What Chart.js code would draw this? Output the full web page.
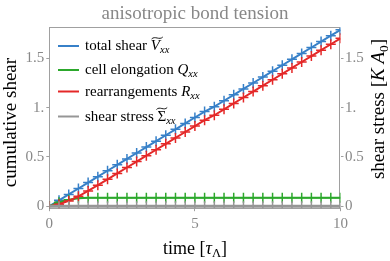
<!DOCTYPE html>
<html><head><meta charset="utf-8">
<script src="https://cdn.jsdelivr.net/npm/chart.js@4/dist/chart.umd.min.js"></script>
<style>html,body{margin:0;padding:0;background:#fff}</style>
</head><body>
<canvas id="c" width="390" height="261"></canvas>
<script>
// ---- data ----
const time = [0,0.333,0.667,1,1.333,1.667,2,2.333,2.667,3,3.333,3.667,4,4.333,4.667,5,5.333,5.667,6,6.333,6.667,7,7.333,7.667,8,8.333,8.667,9,9.333,9.667,10];
const totalShear = [0,0.06,0.12,0.18,0.24,0.30,0.36,0.42,0.48,0.54,0.60,0.66,0.72,0.78,0.84,0.90,0.96,1.01,1.07,1.13,1.19,1.25,1.31,1.37,1.43,1.49,1.55,1.61,1.67,1.73,1.79];
const cellElongation = [0,0.04,0.066,0.08,0.085,0.087,0.087,0.087,0.087,0.087,0.087,0.087,0.087,0.087,0.087,0.087,0.087,0.087,0.087,0.087,0.087,0.087,0.087,0.087,0.087,0.087,0.087,0.087,0.087,0.087,0.087];
const rearrangements = [0,0.02,0.054,0.10,0.155,0.213,0.273,0.333,0.393,0.453,0.513,0.573,0.633,0.693,0.753,0.813,0.873,0.923,0.983,1.043,1.103,1.163,1.223,1.283,1.343,1.403,1.463,1.523,1.583,1.643,1.703];
const shearStress = [0,0,0,0,0,0,0,0,0,0,0,0,0,0,0,0,0,0,0,0,0,0,0,0,0,0,0,0,0,0,0];
const seriesNames = ['total shear Ṽxx','cell elongation Qxx','rearrangements Rxx','shear stress Σ̃xx'];
const xTicks = [0,5,10];
const xTickLabels = ['0','5','10'];
const yTicks = [0,0.5,1,1.5];
const yTickLabels = ['0','0.5','1.','1.5'];
const titleText = 'anisotropic bond tension';

// rich-text pieces (italic / subscript / tilde) for legend and axis titles
const legendRich = [
  [{t:'total shear '},{t:'V',it:1,tilde:1},{t:'xx',it:1,sub:1}],
  [{t:'cell elongation '},{t:'Q',it:1},{t:'xx',it:1,sub:1}],
  [{t:'rearrangements '},{t:'R',it:1},{t:'xx',it:1,sub:1}],
  [{t:'shear stress '},{t:'Σ',tilde:1},{t:'xx',it:1,sub:1}]
];
const xTitleRich = [{t:'time ['},{t:'τ',it:1},{t:'Λ',sub:1},{t:']'}];
const yTitleRich = [{t:'cumulative shear'}];
const y2TitleRich = [{t:'shear stress ['},{t:'K A',it:1},{t:'0',sub:1},{t:']'}];

// ---- styling ----
const FONT = '"Liberation Serif", "DejaVu Serif", serif';
const colors = ['rgb(55,128,200)','rgb(44,168,44)','rgb(228,40,40)','rgb(150,150,150)'];
const GRAY = '#888888';

function pts(arr){ return time.map((t,i)=>({x:t,y:arr[i]})); }

function segFont(s,size){ return (s.it?'italic ':'') + (s.sub? (size*0.7).toFixed(1) : size) + 'px ' + FONT; }
function richWidth(ctx,segs,size){
  let w=0; for(const s of segs){ ctx.font=segFont(s,size); w+=ctx.measureText(s.t).width; } return w;
}
function drawRich(ctx,segs,x,y,size,color){
  ctx.save();
  ctx.fillStyle=color; ctx.strokeStyle=color; ctx.textBaseline='alphabetic'; ctx.textAlign='left';
  let cx=x;
  for(const s of segs){
    ctx.font=segFont(s,size);
    const w=ctx.measureText(s.t).width;
    const dy = s.sub ? size*0.22 : 0;
    ctx.fillText(s.t,cx,y+dy);
    if(s.tilde){
      const ty = y - size*0.80;
      const x0 = cx + (s.it? size*0.12 : 0) - 1, x1 = cx + w + (s.it? size*0.12:0) + 1;
      const ww = x1-x0;
      ctx.lineWidth=0.9;
      ctx.beginPath();
      ctx.moveTo(x0,ty+1);
      ctx.bezierCurveTo(x0+ww*0.3,ty-2.6,x0+ww*0.7,ty+2.6,x1,ty-1);
      ctx.stroke();
    }
    cx+=w;
  }
  ctx.restore();
}

const decor = {
  id:'decor',
  beforeDatasetsDraw(chart){
    const {ctx,chartArea:a}=chart;
    ctx.save();
    ctx.strokeStyle='#a0a0a0'; ctx.lineWidth=1;
    ctx.strokeRect(Math.round(a.left)+0.5,Math.round(a.top)+0.5,Math.round(a.right-a.left)-1,Math.round(a.bottom-a.top));
    ctx.restore();
  },
  afterDraw(chart){
    const ctx=chart.ctx;
    // legend
    const rowsY=[46,70,91.5,116.5];
    legendRich.forEach((segs,i)=>{
      ctx.save();
      ctx.strokeStyle=colors[i]; ctx.lineWidth=2;
      ctx.beginPath(); ctx.moveTo(58,rowsY[i]); ctx.lineTo(79,rowsY[i]); ctx.stroke();
      ctx.restore();
      drawRich(ctx,segs,85,rowsY[i]+4,15,'#000');
    });
    // x title
    const xs=18;
    const xw=richWidth(ctx,xTitleRich,xs);
    drawRich(ctx,xTitleRich,195-xw/2,253.5,xs,'#000');
    // y title (left)
    const ys=19;
    const yw=richWidth(ctx,yTitleRich,ys);
    ctx.save(); ctx.translate(15.5,122.5); ctx.rotate(-Math.PI/2);
    drawRich(ctx,yTitleRich,-yw/2,0,ys,'#000'); ctx.restore();
    // y2 title (right)
    const y2w=richWidth(ctx,y2TitleRich,ys);
    ctx.save(); ctx.translate(383.5,109); ctx.rotate(-Math.PI/2);
    drawRich(ctx,y2TitleRich,-y2w/2,0,ys,'#000'); ctx.restore();
  }
};

function mkY(pos,width,pad){
  return {
    type:'linear', position:pos, min:-0.02, max:1.815,
    afterBuildTicks(s){ s.ticks=yTicks.map(v=>({value:v})); },
    afterFit(s){ s.width=width; },
    ticks:{ color:GRAY, font:{family:FONT,size:15}, padding:pad,
      callback:(v)=>{ const i=yTicks.indexOf(v); return i>=0?yTickLabels[i]:''; } },
    grid:{ display:true, drawOnChartArea:false, drawTicks:true, tickLength:3, color:'#a0a0a0' },
    border:{ display:false },
    title:{ display:false }
  };
}

new Chart(document.getElementById('c'),{
  type:'line',
  data:{ datasets:[
    {label:seriesNames[0],data:pts(totalShear),yAxisID:'y'},
    {label:seriesNames[1],data:pts(cellElongation),yAxisID:'y'},
    {label:seriesNames[2],data:pts(rearrangements),yAxisID:'y'},
    {label:seriesNames[3],data:pts(shearStress),yAxisID:'y2'}
  ].map((d,i)=>Object.assign(d,{
    borderColor:colors[i], backgroundColor:colors[i],
    borderWidth: i===3?3:2, pointStyle:'cross', pointRadius:5, pointBorderWidth:1.5,
    pointBorderColor:colors[i], tension:0, fill:false
  })).reverse()},
  options:{
    responsive:false, animation:false, devicePixelRatio:1,
    layout:{padding:0},
    plugins:{
      legend:{display:false}, tooltip:{enabled:false},
      title:{display:true,text:titleText,color:GRAY,font:{family:FONT,size:19,weight:'normal'},padding:{top:3,bottom:1.5}}
    },
    scales:{
      x:{ type:'linear', position:'bottom', min:0, max:10,
        afterBuildTicks(s){ s.ticks=xTicks.map(v=>({value:v})); },
        afterFit(s){ s.height=52.8; },
        ticks:{ color:GRAY, font:{family:FONT,size:15}, padding:4, maxRotation:0,
          callback:(v)=>{ const i=xTicks.indexOf(v); return i>=0?xTickLabels[i]:''; } },
        grid:{ display:true, drawOnChartArea:false, drawTicks:true, tickLength:3, color:'#a0a0a0' },
        border:{ display:false }
      },
      y: mkY('left',49.3,2),
      y2: mkY('right',49.5,1.5)
    }
  },
  plugins:[decor]
});
</script>
</body></html>
